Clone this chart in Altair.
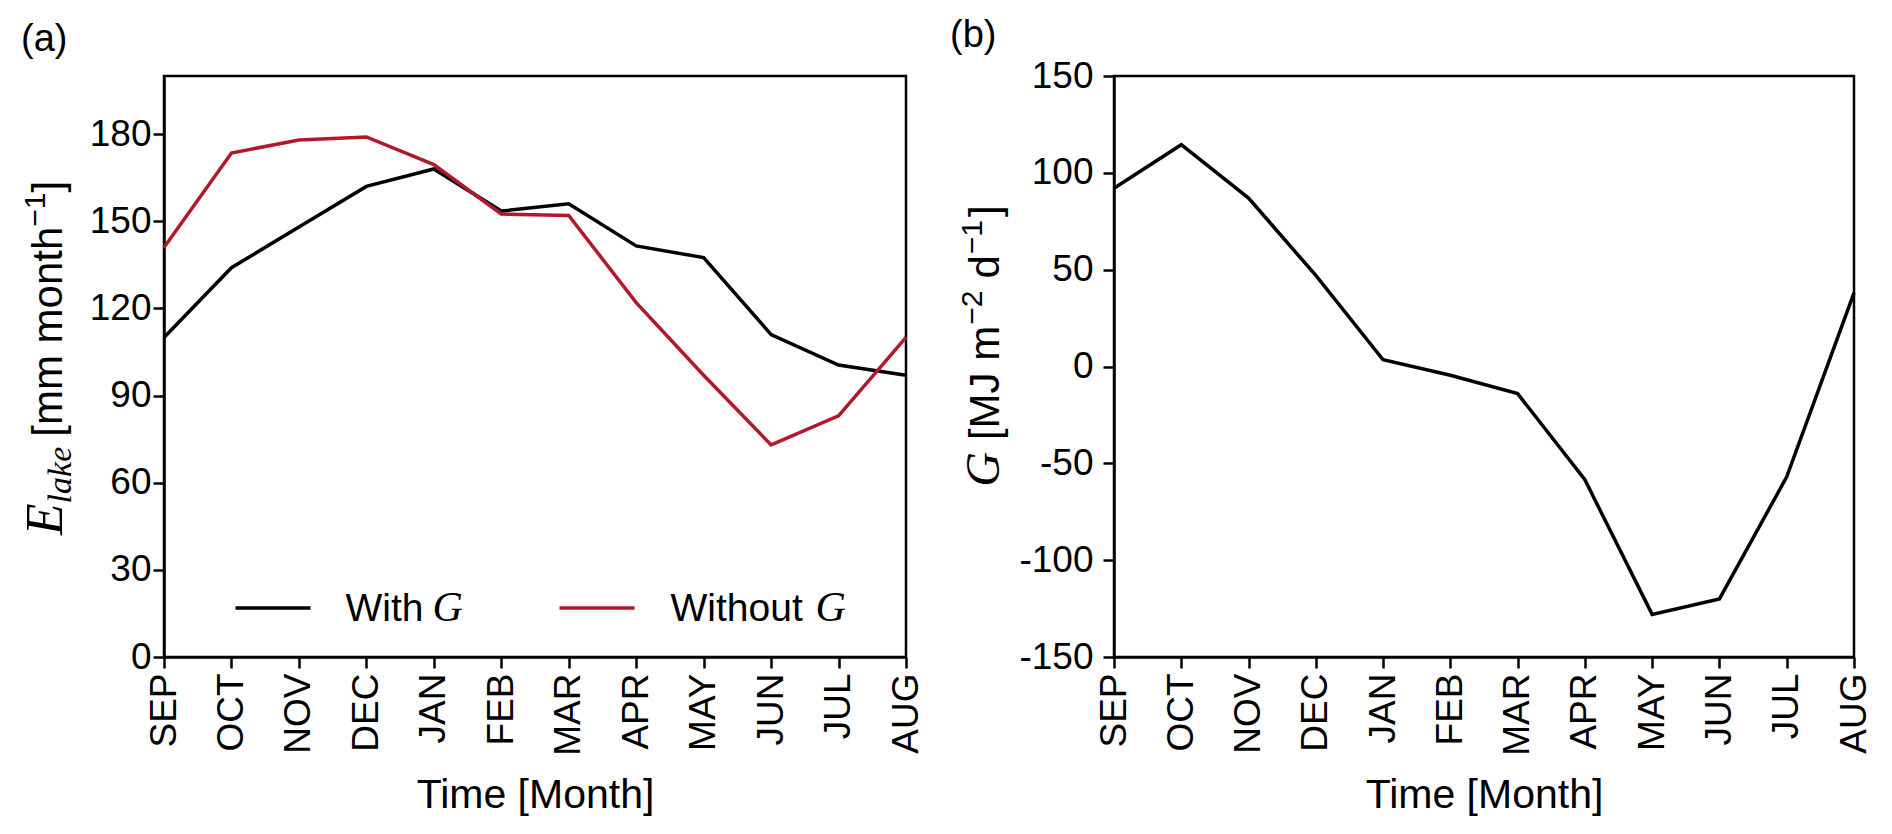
import altair as alt
import pandas as pd

months = ["SEP", "OCT", "NOV", "DEC", "JAN", "FEB", "MAR", "APR", "MAY", "JUN", "JUL", "AUG"]
e_with_g = [110, 134, 148, 162, 168, 153.5, 156, 141.5, 137.5, 111, 100.5, 97]
e_without_g = [141, 173.5, 178, 179, 169.5, 152.5, 152, 122, 97, 73, 83, 110]
g_flux = [92, 114.5, 87, 47, 3.5, -4.5, -14, -58.5, -128, -120, -57, 38]

series_names = ["With G", "Without G"]
series_colors = ["#000000", "#b2182b"]

SANS = "Liberation Sans"
SERIF = "Liberation Serif"
W, H = 742, 581

# rough advance widths (em) for laying out the split titles
SANS_W = {" ": .278, "[": .278, "]": .278, "m": .833, "o": .556, "n": .556, "t": .278,
          "h": .556, "M": .833, "J": .5, "d": .556, "−": .584, "1": .556, "2": .556}
SERIF_I_W = {"E": .611, "G": .722, "l": .278, "a": .5, "k": .444, "e": .444}

# plain hyphen for negative tick labels, like the original
MINUS_EXPR = "(datum.value < 0 ? '-' : '') + abs(datum.value)"


def text_layer(s, x, y, size, font=SANS, style="normal", angle=0, align="left", baseline="alphabetic"):
    return alt.Chart(pd.DataFrame({"t": [s]})).mark_text(
        text=s, font=font, fontSize=size, fontStyle=style, angle=angle,
        align=align, baseline=baseline, color="black",
    ).encode(x=alt.value(x), y=alt.value(y))


def rotated_title(pieces, x0, yc):
    # pieces: (text, serif?, size, shift, gap_before)
    widths = []
    for txt, serif, size, shift, gap in pieces:
        table = SERIF_I_W if serif else SANS_W
        widths.append(gap + sum(table[c] for c in txt) * size)
    y = yc + sum(widths) / 2
    out = []
    for (txt, serif, size, shift, gap), w in zip(pieces, widths):
        y -= gap
        out.append(text_layer(txt, x0 + shift, y, size,
                              font=SERIF if serif else SANS,
                              style="italic" if serif else "normal", angle=270))
        y -= w - gap
    return out


x_enc = alt.X("month:N", sort=months, scale=alt.Scale(padding=0),
              axis=alt.Axis(title="Time [Month]", labelAngle=270, labelAlign="right",
                            labelBaseline="middle", labelPadding=5, titlePadding=20))

# ---- panel (a)
df_a = pd.DataFrame({
    "month": months * 2,
    "value": e_with_g + e_without_g,
    "series": [series_names[0]] * 12 + [series_names[1]] * 12,
})

lines_a = alt.Chart(df_a).mark_line(strokeWidth=3.5).encode(
    x=x_enc,
    y=alt.Y("value:Q", scale=alt.Scale(domain=[0, 200], nice=False),
            axis=alt.Axis(title=None, values=[0, 30, 60, 90, 120, 150, 180])),
    color=alt.Color("series:N", scale=alt.Scale(domain=series_names, range=series_colors), legend=None),
    detail="series:N",
)

legend_a = []
for name, col, x1, tx, tw in [(series_names[0], series_colors[0], 71.5, 181.5, 76),
                              (series_names[1], series_colors[1], 395.5, 506.5, 134)]:
    legend_a.append(
        alt.Chart(pd.DataFrame({"s": [name]})).mark_rule(color=col, strokeWidth=3.5).encode(
            x=alt.value(x1), x2=alt.value(x1 + 75), y=alt.value(532))
    )
    legend_a.append(text_layer(name.split(" ")[0], tx, 545, 39))
    legend_a.append(text_layer("G", tx + tw + 11, 545, 42, font=SERIF, style="italic"))

title_a = rotated_title([
    ("E", True, 52, 0, 0),
    ("lake", True, 34, 9, 0),
    ("[mm month", False, 42, 0, 10),
    ("−1", False, 30, -17, 0),
    ("]", False, 42, 0, 0),
], -102, 282)

panel_a = alt.layer(
    lines_a, *legend_a, *title_a,
    text_layer("(a)", -143, -36, 38, baseline="middle"),
).properties(width=W, height=H)

# ---- panel (b)
df_b = pd.DataFrame({"month": months, "value": g_flux})

lines_b = alt.Chart(df_b).mark_line(strokeWidth=3.5, color="black").encode(
    x=x_enc,
    y=alt.Y("value:Q", scale=alt.Scale(domain=[-150, 150], nice=False),
            axis=alt.Axis(title=None, values=[-150, -100, -50, 0, 50, 100, 150],
                          labelPadding=10, labelExpr=MINUS_EXPR)),
)

title_b = rotated_title([
    ("G", True, 48, 0, 0),
    ("[MJ m", False, 42, 0, 12),
    ("−2", False, 30, -17, 1),
    ("d", False, 42, 0, 12),
    ("−1", False, 30, -17, 1),
    ("]", False, 42, 0, 3),
], -115, 270)

panel_b = alt.layer(
    lines_b, *title_b,
    text_layer("(b)", -164, -40, 38, baseline="middle"),
).properties(width=W - 2, height=H)

chart = alt.hconcat(panel_a, panel_b, spacing=208, bounds="flush").properties(
    padding={"left": 10, "top": 7, "right": 5, "bottom": 5},
).configure_view(
    stroke="black", strokeWidth=2.5,
).configure_axis(
    grid=False, domainColor="black", domainWidth=2.5, tickColor="black", tickWidth=2.5, tickSize=11,
    labelFont=SANS, labelFontSize=37, labelColor="black",
    titleFont=SANS, titleFontSize=41, titleFontWeight="normal", titleColor="black",
)

chart.save("out.html", embed_options={"renderer": "svg", "actions": False})
